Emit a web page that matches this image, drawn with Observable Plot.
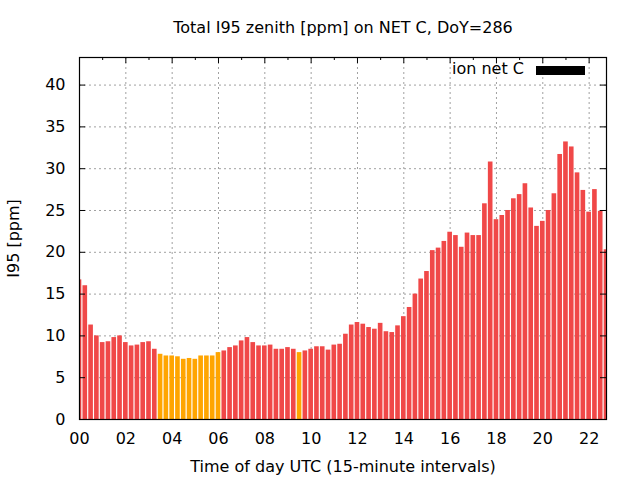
<!DOCTYPE html>
<html><head><meta charset="utf-8">
<script src="https://cdn.jsdelivr.net/npm/d3@7"></script>
<script src="https://cdn.jsdelivr.net/npm/@observablehq/plot@0.6"></script>
<style>
body{margin:0;background:#fff;}
#wrap{position:relative;width:640px;height:480px;font-family:"DejaVu Sans",sans-serif;}
#legend{position:absolute;left:452px;top:59px;font-size:16px;color:#000;white-space:nowrap;line-height:20px;}
#swatch{position:absolute;left:536px;top:66px;width:49px;height:9px;background:#000;}
</style></head><body><div id="wrap"></div>
<script>
const chartTitle = "Total I95 zenith [ppm] on NET C, DoY=286";
const xLabel = "Time of day UTC (15-minute intervals)";
const yLabel = "I95 [ppm]";
const seriesName = "ion net C";
const slotHours = 0.25;
const values = [
  16.7, 16.0, 11.3, 10.0, 9.2, 9.3, 9.8, 10.0, 9.2, 8.8, 8.9, 9.2, 9.3, 8.4,
  7.8, 7.6, 7.6, 7.5, 7.2, 7.3, 7.2, 7.6, 7.6, 7.6, 8.0,
  8.2, 8.6, 8.8, 9.4, 9.8, 9.2, 8.8, 8.8, 8.9, 8.4, 8.4, 8.6, 8.4, 8.0,
  8.2, 8.4, 8.7, 8.7, 8.3, 8.9, 9.0, 10.2, 11.3, 11.6, 11.4, 11.0, 10.8,
  11.5, 10.5, 10.4, 11.2, 12.3, 13.4, 15.0, 16.8, 17.7, 20.2, 20.5, 21.3,
  22.4, 22.0, 20.6, 22.3, 22.0, 22.0, 25.8, 30.8, 23.9, 24.4, 25.0, 26.4,
  26.9, 28.2, 25.3, 23.1, 23.7, 25.0, 27.0, 31.7, 33.2, 32.6, 29.5, 27.4,
  24.8, 27.5, 24.9, 20.3
];
const orangeSlots = [14, 15, 16, 17, 18, 19, 20, 21, 22, 23, 24, 38];
const xTickHours = [0, 2, 4, 6, 8, 10, 12, 14, 16, 18, 20, 22];
const xTickLabels = ["00","02","04","06","08","10","12","14","16","18","20","22"];
const xMinorHours = [1, 3, 5, 7, 9, 11, 13, 15, 17, 19, 21];
const yTicks = [0, 5, 10, 15, 20, 25, 30, 35, 40];
const redColor = "#f04848";
const orangeColor = "#ffa500";

const data = values.map((v, i) => ({t: i * slotHours, v, hl: orangeSlots.includes(i)}));
const W = 640, H = 480, mL = 79, mR = 34, mT = 57, mB = 61;
const fh = H - mT - mB, fw = W - mL - mR;
const halfW = 0.1;
const grid = {stroke: "#a0a0a0", strokeOpacity: 1, strokeDasharray: "2,3"};

const chart = Plot.plot({
  width: W, height: H,
  marginLeft: mL, marginRight: mR, marginTop: mT, marginBottom: mB,
  style: {fontFamily: "DejaVu Sans, sans-serif", fontSize: "16px", background: "#fff", color: "#000"},
  x: {domain: [0, 22.75]},
  y: {domain: [0, 43.3]},
  marks: [
    Plot.gridX(xTickHours.filter(d => d > 0), grid),
    Plot.gridY(yTicks.filter(d => d > 0), grid),
    Plot.tickX(xTickHours, {x: d => d, insetTop: fh - 6, stroke: "#000"}),
    Plot.tickX(xMinorHours, {x: d => d, insetTop: fh - 3, stroke: "#000"}),
    Plot.rectY(data, {x1: d => d.t - halfW, x2: d => d.t + halfW, y: "v",
      fill: d => d.hl ? orangeColor : redColor, clip: true}),
    Plot.tickX(xTickHours, {x: d => d, insetBottom: fh - 6, stroke: "#000"}),
    Plot.tickX(xMinorHours, {x: d => d, insetBottom: fh - 3, stroke: "#000"}),
    Plot.tickY(yTicks, {y: d => d, insetRight: fw - 6, stroke: "#000"}),
    Plot.tickY(yTicks, {y: d => d, insetLeft: fw - 6, stroke: "#000"}),
    Plot.frame({stroke: "#000", strokeWidth: 1.2}),
    Plot.axisX(xTickHours, {tickSize: 0, tickPadding: 13, tickFormat: (d, i) => xTickLabels[i], label: null}),
    Plot.axisY(yTicks, {tickSize: 0, tickPadding: 14, label: null}),
    Plot.text([chartTitle], {frameAnchor: "top", dy: -30, lineAnchor: "middle"}),
    Plot.text([xLabel], {frameAnchor: "bottom", dy: 47, lineAnchor: "middle"}),
    Plot.text([yLabel], {frameAnchor: "left", dx: -66, rotate: -90, lineAnchor: "middle", textAnchor: "middle"})
  ]
});
const wrap = document.getElementById("wrap");
wrap.appendChild(chart);
const lg = document.createElement("div"); lg.id = "legend"; lg.textContent = seriesName; wrap.appendChild(lg);
const sw = document.createElement("div"); sw.id = "swatch"; wrap.appendChild(sw);
</script></body></html>
